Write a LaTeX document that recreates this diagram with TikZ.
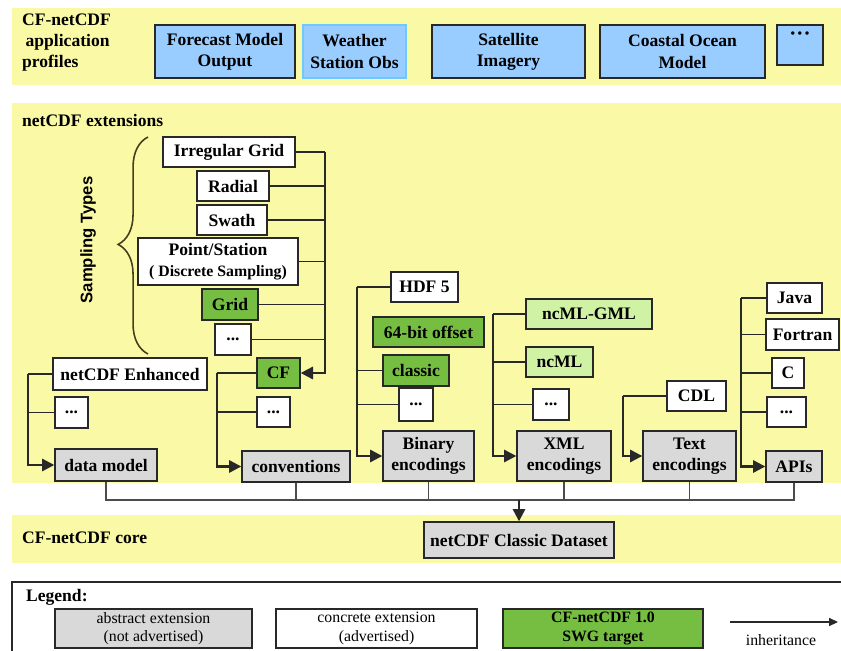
\documentclass[tikz,border=0pt]{standalone}
\usepackage{fontspec}
\setmainfont{Liberation Serif}[BoldFont={Liberation Serif Bold}, ItalicFont={Liberation Serif Italic}]
\newfontfamily\sampfont{Liberation Sans}
\usetikzlibrary{arrows.meta, decorations.pathreplacing}
\definecolor{bandyellow}{RGB}{250,249,165}
\definecolor{profblue}{RGB}{153,204,255}
\definecolor{wsoblue}{RGB}{110,200,250}
\definecolor{absgray}{RGB}{217,217,217}
\definecolor{cfgreen}{RGB}{118,190,66}
\definecolor{lightgreen}{RGB}{208,242,165}
\definecolor{boxline}{RGB}{40,40,40}
\definecolor{braceolive}{RGB}{70,62,30}

\begin{document}
\begin{tikzpicture}[x=0.02cm, y=-0.02cm]
    \tikzstyle{box}=[draw=boxline, line width=0.8pt, font=\bfseries, inner sep=1pt, minimum height=0.6cm, align=center]
    \tikzstyle{profile}=[box, fill=profblue]
    \tikzstyle{abstr}=[box, fill=absgray]
    \tikzstyle{concr}=[box, fill=white]
    \tikzstyle{target}=[box, fill=cfgreen]
    \tikzstyle{xmlbox}=[box, fill=lightgreen]
    \tikzstyle{branch}=[draw=boxline, line width=0.8pt]
    \tikzstyle{inherit}=[draw=boxline, line width=1.3pt, -{Triangle[length=7pt,width=7pt]}]
    \tikzstyle{busline}=[draw=black!70, line width=0.8pt]
    \tikzstyle{legendtext}=[font=\fontsize{9}{10.5}\selectfont]

    \useasboundingbox (0,0) rectangle (841,651);
    \fill[bandyellow] (12,8) rectangle (841,85);
    \fill[bandyellow] (12,103) rectangle (841,483);
    \fill[bandyellow] (12,515) rectangle (841,563);

    \node [anchor=north west, align=left, font=\bfseries, inner sep=1pt] (proflabel) at (20,12) {CF-netCDF\\\hspace{2pt}application\\profiles};
    \node [profile, minimum width=2.8cm, minimum height=1.06cm] (fmo) at (225,51.5) {Forecast Model\\Output};
    \node [profile, draw=wsoblue, minimum width=2.06cm, minimum height=1.06cm] (wso) at (354.5,51.5) {Weather\\Station Obs};
    \node [profile, minimum width=3.06cm, minimum height=1.06cm] (sat) at (508.5,51.5) {Satellite\\Imagery};
    \node [profile, minimum width=3.3cm, minimum height=1.06cm] (coast) at (682.5,51.5) {Coastal Ocean\\Model};
    \node [profile, minimum width=0.92cm, minimum height=0.8cm, text depth=10pt] (pdots) at (800,45) {\large ···};

    \node [anchor=west, font=\bfseries, inner sep=1pt] (extlabel) at (20,120) {netCDF extensions};
    \node [rotate=90, font=\sampfont\bfseries\fontsize{9.5}{11}\selectfont] (stlabel) at (88,240) {Sampling Types};
    \draw [braceolive, line width=0.9pt, decorate, decoration={brace, amplitude=17pt, aspect=0.505}] (148,354) -- (148,137);

    \node [concr, minimum width=2.64cm] (irr) at (229,152) {Irregular Grid};
    \node [concr, minimum width=1.44cm] (radial) at (233,186) {Radial};
    \node [concr, minimum width=1.4cm] (swath) at (232,220) {Swath};
    \node [concr, minimum width=3.2cm, minimum height=0.94cm] (point) at (218,261.5) {Point/Station\\{\small ( Discrete Sampling)}};
    \node [target, minimum width=1.12cm, minimum height=0.62cm] (grid) at (230,304.5) {Grid};
    \node [concr, minimum width=0.72cm, minimum height=0.62cm] (sdots) at (233,339.5) {...};
    \node [target, minimum width=0.86cm] (cf) at (278.5,373) {CF};
    \node [concr, minimum width=0.66cm] (cdots) at (273.5,412) {...};
    \node [abstr, minimum width=2.16cm, minimum height=0.62cm] (conv) at (296,466.5) {conventions};

    \node [concr, minimum width=3.08cm, minimum height=0.64cm] (enh) at (130,374) {netCDF Enhanced};
    \node [concr, minimum width=0.66cm, minimum height=0.62cm] (ddots) at (71.5,412.5) {...};
    \node [abstr, minimum width=2.04cm, minimum height=0.64cm] (dm) at (106,465) {data model};

    \node [concr, minimum width=1.34cm] (hdf) at (424.5,287) {HDF 5};
    \node [target, minimum width=2.22cm] (off64) at (428.5,332) {64-bit offset};
    \node [target, minimum width=1.32cm, minimum height=0.62cm] (classic) at (416,370.5) {classic};
    \node [concr, minimum width=0.68cm, minimum height=0.66cm] (bdots) at (416,404.5) {...};
    \node [abstr, minimum width=1.82cm, minimum height=1cm] (binary) at (428.5,456) {Binary\\encodings};

    \node [xmlbox, minimum width=2.52cm] (gml) at (589,314) {ncML-GML};
    \node [xmlbox, minimum width=1.34cm] (ncml) at (559.5,362) {ncML};
    \node [concr, minimum width=0.72cm, minimum height=0.62cm] (xdots) at (551,404.5) {...};
    \node [abstr, minimum width=1.88cm, minimum height=1cm] (xml) at (564,456) {XML\\encodings};

    \node [concr, minimum width=1.18cm] (cdl) at (696.5,396) {CDL};
    \node [abstr, minimum width=1.86cm, minimum height=1cm] (text) at (689.5,456) {Text\\encodings};

    \node [concr, minimum width=1.1cm] (java) at (794.5,298) {Java};
    \node [concr, minimum width=1.46cm, minimum height=0.62cm] (fortran) at (802.5,334.5) {Fortran};
    \node [concr, minimum width=0.64cm] (c) at (788,373) {C};
    \node [concr, minimum width=0.78cm] (adots) at (786.5,412) {...};
    \node [abstr, minimum width=1.12cm, minimum height=0.62cm] (apis) at (794,466.5) {APIs};

    \coordinate (sttrunk) at (325,152);
    \draw [branch] (irr.east) -- (sttrunk);
    \foreach \n in {radial,swath,point,grid,sdots}
      \draw [branch] (\n.east) -- (\n.east -| sttrunk);
    \draw [inherit] (sttrunk) |- (cf.east);

    \coordinate (convtrunk) at (217,373);
    \draw [branch] (cf.west) -- (convtrunk);
    \draw [branch] (cdots.west) -- (cdots.west -| convtrunk);
    \draw [inherit] (convtrunk) |- (conv.west);

    \coordinate (dmtrunk) at (28,374);
    \draw [branch] (enh.west) -- (dmtrunk);
    \draw [branch] (ddots.west) -- (ddots.west -| dmtrunk);
    \draw [inherit] (dmtrunk) |- (dm.west);

    \coordinate (bintrunk) at (357,287);
    \draw [branch] (hdf.west) -- (bintrunk);
    \draw [branch] (classic.west) -- (classic.west -| bintrunk);
    \draw [branch] (bdots.west) -- (bdots.west -| bintrunk);
    \draw [inherit] (bintrunk) |- (binary.west);

    \coordinate (xmltrunk) at (493,314);
    \draw [branch] (gml.west) -- (xmltrunk);
    \draw [branch] (ncml.west) -- (ncml.west -| xmltrunk);
    \draw [branch] (xdots.west) -- (xdots.west -| xmltrunk);
    \draw [inherit] (xmltrunk) |- (xml.west);

    \coordinate (texttrunk) at (623,396);
    \draw [branch] (cdl.west) -- (texttrunk);
    \draw [inherit] (texttrunk) |- (text.west);

    \coordinate (apitrunk) at (741,298);
    \draw [branch] (java.west) -- (apitrunk);
    \foreach \n in {fortran,c,adots}
      \draw [branch] (\n.west) -- (\n.west -| apitrunk);
    \draw [inherit] (apitrunk) |- (apis.west);

    \node [anchor=west, font=\bfseries, inner sep=1pt] (corelabel) at (20,538) {CF-netCDF core};
    \node [abstr, minimum width=3.8cm, minimum height=0.72cm] (core) at (519,540) {netCDF Classic Dataset};

    \coordinate (bus) at (519,500);
    \draw [busline] (dm.south) |- (bus) -| (apis.south);
    \foreach \n in {conv,binary,xml,text}
      \draw [busline] (\n.south) -- (\n.south |- bus);
    \draw [inherit] (bus) -- (core.north);

    \draw [boxline, line width=1pt] (12,582) rectangle (845,655);
    \node [anchor=west, font=\bfseries, inner sep=1pt] (leglabel) at (24,597) {Legend:};
    \node [abstr, legendtext, minimum width=3.94cm, minimum height=0.78cm] (legabs) at (153.5,628.5) {abstract extension\\(not advertised)};
    \node [concr, legendtext, minimum width=4.02cm, minimum height=0.78cm] (legcon) at (376.5,628.5) {concrete extension\\(advertised)};
    \node [target, font=\bfseries\fontsize{9}{10.5}\selectfont, minimum width=4cm, minimum height=0.78cm] (legtgt) at (603,628.5) {CF-netCDF 1.0\\SWG target};
    \coordinate (legfrom) at (730,622);
    \coordinate (legto) at (838,622);
    \draw [boxline, line width=0.8pt, -{Triangle[length=5pt,width=4.5pt]}] (legfrom) -- (legto);
    \node [legendtext] (leginh) at (781,640) {inheritance};
\end{tikzpicture}
\end{document}
